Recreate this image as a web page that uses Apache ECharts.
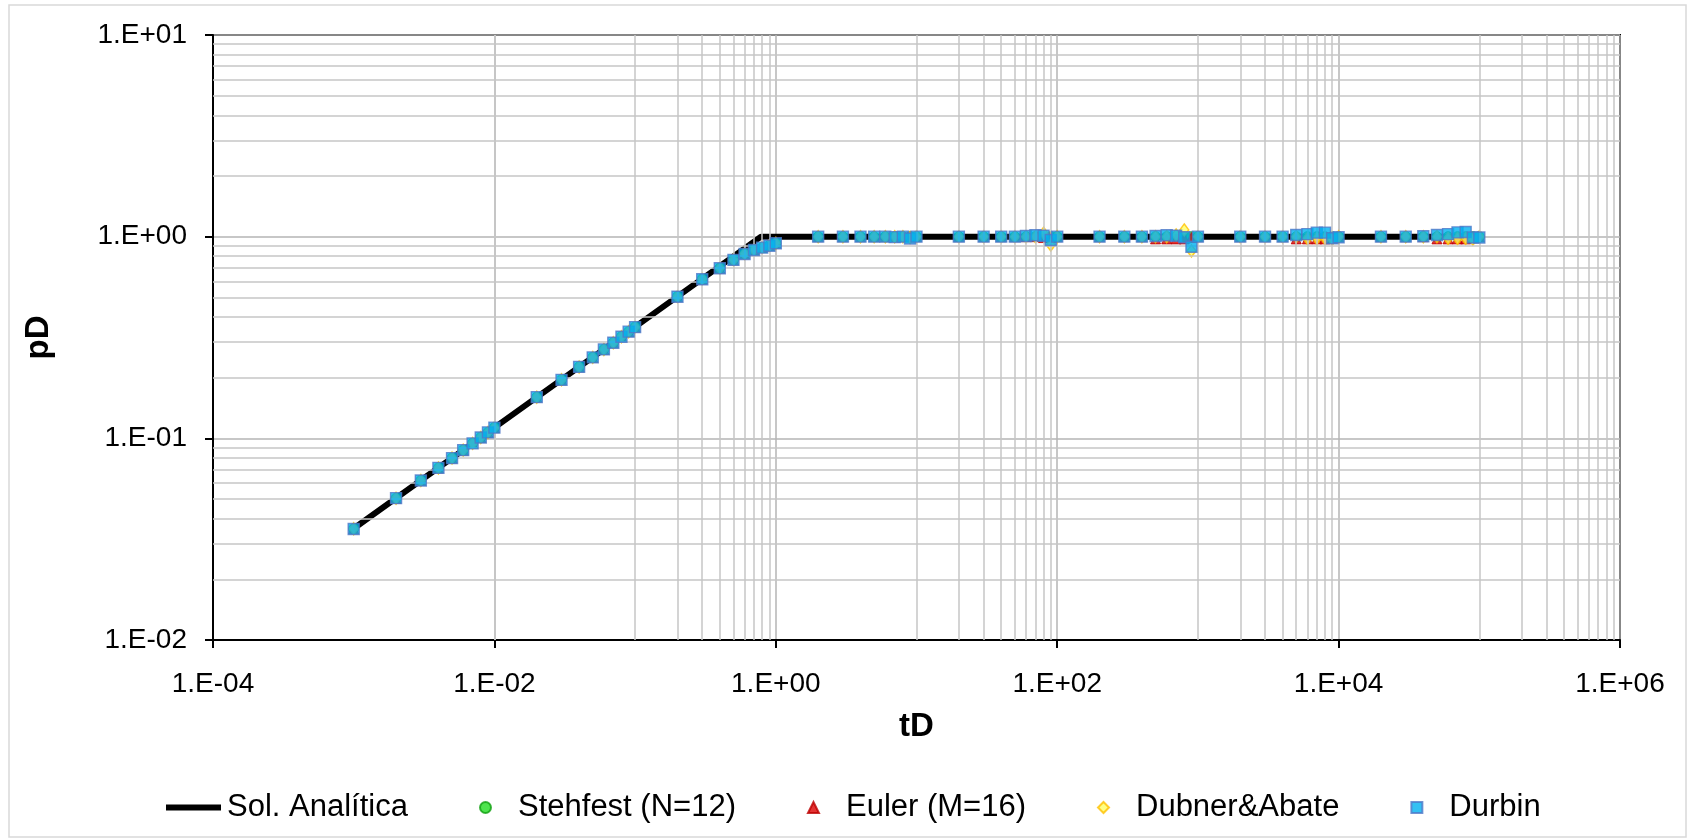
<!DOCTYPE html>
<html>
<head>
<meta charset="utf-8">
<script src="https://cdn.jsdelivr.net/npm/echarts@6/dist/echarts.min.js"></script>
<style>html,body{margin:0;padding:0;background:#fff}#c{width:1694px;height:840px}</style>
</head>
<body>
<div id="c"></div>
<script>
// ---- data ----
const tD = [0.001,0.002,0.003,0.004,0.005,0.006,0.007,0.008,0.009,
  0.01,0.02,0.03,0.04,0.05,0.06,0.07,0.08,0.09,
  0.1,0.2,0.3,0.4,0.5,0.6,0.7,0.8,0.9,
  1,2,3,4,5,6,7,8,9,
  10,20,30,40,50,60,70,80,90,
  100,200,300,400,500,600,700,800,900,
  1000,2000,3000,4000,5000,6000,7000,8000,9000,
  10000,20000,30000,40000,50000,60000,70000,80000,90000,
  100000];
const durbin = [0.0355,0.0505,0.0618,0.0714,0.0798,0.0874,0.0944,0.101,0.107,
  0.113,0.160,0.195,0.226,0.252,0.276,0.298,0.319,0.338,
  0.356,0.504,0.615,0.697,0.767,0.821,0.859,0.882,0.902,
  0.927,1.0,1.0,1.0,1.0,1.0,0.995,1.0,0.98,
  1.0,1.0,1.0,1.0,1.0,1.008,1.016,1.01,0.963,
  1.0,1.0,1.0,1.0,1.008,1.016,1.011,0.993,0.892,
  1.0,1.0,1.0,1.0,1.02,1.03,1.047,1.047,0.982,
  0.993,1.0,1.0,1.005,1.02,1.03,1.05,1.055,0.99,
  0.99];
const stehfest = [0.0356,0.0504,0.0618,0.0713,0.0798,0.0874,0.0944,0.101,0.107,
  0.113,0.160,0.195,0.226,0.252,0.276,0.298,0.319,0.338,
  0.356,0.504,0.616,0.698,0.768,0.822,0.860,0.884,0.904,
  0.928,1.0,1.0,1.0,1.0,1.0,1.0,1.0,1.0,
  1.0,1.0,1.0,1.0,1.0,1.0,1.0,1.0,1.0,
  1.0,1.0,1.0,1.0,1.0,1.0,1.0,1.0,1.0,
  1.0,1.0,1.0,1.0,1.0,1.0,1.0,1.0,1.0,
  1.0,1.0,1.0,1.0,1.0,1.0,1.0,1.0,1.0,
  1.0];
const euler = [0.0356,0.0504,0.0618,0.0713,0.0798,0.0874,0.0944,0.101,0.107,
  0.113,0.160,0.195,0.226,0.252,0.276,0.298,0.319,0.338,
  0.356,0.504,0.616,0.698,0.768,0.822,0.860,0.884,0.904,
  0.928,1.0,1.0,1.0,1.0,1.0,1.0,1.0,1.0,
  1.0,1.0,1.0,1.0,1.0,1.0,1.0,0.99,0.99,
  1.0,1.0,1.0,1.0,0.975,0.975,0.975,0.975,0.99,
  1.0,1.0,1.0,1.0,0.975,0.975,0.975,0.975,0.99,
  1.0,1.0,1.0,1.0,0.975,0.975,0.975,0.975,0.99,
  1.0];
const dubner = [0.0356,0.0504,0.0618,0.0713,0.0798,0.0874,0.0944,0.101,0.107,
  0.113,0.160,0.195,0.226,0.252,0.276,0.298,0.319,0.338,
  0.356,0.504,0.616,0.698,0.768,0.822,0.860,0.884,0.904,
  0.928,1.0,1.0,1.0,1.0,1.0,1.0,1.0,0.99,
  1.0,1.0,1.0,1.0,1.0,1.0,1.0,1.04,0.91,
  1.0,1.0,1.0,1.0,1.0,1.0,1.02,1.08,0.85,
  1.0,1.0,1.0,1.0,1.0,0.98,0.98,0.98,0.97,
  1.0,1.0,1.0,1.0,1.0,0.98,0.98,0.98,0.97,
  1.0];
const analyticT = [0.001,0.01,0.1,0.785,100000];
const analyticP = [0.0357,0.113,0.357,1.0,1.0];
const xTickLabels = ['1.E-04','1.E-02','1.E+00','1.E+02','1.E+04','1.E+06'];
const yTickLabels = ['1.E-02','1.E-01','1.E+00','1.E+01'];
const seriesNames = ['Sol. Analítica','Stehfest (N=12)','Euler (M=16)','Dubner&Abate','Durbin'];

// minor grid positions (axis ticks)
const xMinor = [];
[-3,-1,1,3,5].forEach(function(e){ for (let k=1;k<=9;k++) xMinor.push(k*Math.pow(10,e)); });
const yMinor = [];
[-2,-1,0].forEach(function(e){ for (let k=2;k<=9;k++) yMinor.push(k*Math.pow(10,e)); });

function zip(a,b){ return a.map(function(v,i){ return [v,b[i]]; }); }
function expIdx(v, lo, step){ return Math.round((Math.round(Math.log10(v)) - lo)/step); }

const FONT = 'Liberation Sans, Arial, sans-serif';
const minorLine = {color:'#c6c6c6', width:1.5, type:'solid'};
const legendText = {fontFamily:FONT, fontSize:31, color:'#000'};

const chart = echarts.init(document.getElementById('c'), null, {renderer:'canvas'});
chart.setOption({
  animation:false,
  backgroundColor:'#ffffff',
  graphic:[{type:'rect', shape:{x:9,y:5,width:1677,height:832}, style:{fill:'none', stroke:'#d9d9d9', lineWidth:1.5}, silent:true, z:-10}],
  grid:{left:213, right:74, top:35, bottom:200, show:true, borderColor:'#000', borderWidth:2, backgroundColor:'transparent'},
  legend:[
    {left:166, top:792, padding:0, itemWidth:55, itemHeight:6,
      textStyle:Object.assign({padding:[0,0,0,1]}, legendText),
      data:[{name:seriesNames[0], icon:'rect'}]},
    {left:479, top:792, padding:0, itemWidth:11, itemHeight:11, itemGap:71,
      textStyle:Object.assign({padding:[0,0,0,22]}, legendText),
      data:[
        {name:seriesNames[1], icon:'circle'},
        {name:seriesNames[2], icon:'triangle'},
        {name:seriesNames[3], icon:'diamond'},
        {name:seriesNames[4], icon:'rect'}
      ]}
  ],
  xAxis:{
    type:'log', logBase:100, min:1e-4, max:1e6, splitNumber:5,
    name:'tD', nameLocation:'middle', nameGap:70,
    nameTextStyle:{fontFamily:FONT, fontSize:33, fontWeight:'bold', color:'#000'},
    axisLine:{lineStyle:{color:'#000', width:2}},
    axisTick:{show:true, length:8, lineStyle:{color:'#000', width:2}},
    axisLabel:{fontFamily:FONT, fontSize:28, color:'#000', margin:30,
      formatter:function(v){ return xTickLabels[expIdx(v,-4,2)]; }},
    splitLine:{show:true, lineStyle:{color:'#b4b4b4', width:1.5}},
    minorTick:{show:false}, minorSplitLine:{show:false}
  },
  yAxis:{
    type:'log', logBase:10, min:0.01, max:10, splitNumber:3,
    name:'pD', nameLocation:'middle', nameGap:158, nameRotate:90,
    nameTextStyle:{fontFamily:FONT, fontSize:33, fontWeight:'bold', color:'#000'},
    axisLine:{lineStyle:{color:'#000', width:2}},
    axisTick:{show:true, length:8, lineStyle:{color:'#000', width:2}},
    axisLabel:{fontFamily:FONT, fontSize:28, color:'#000', margin:26,
      formatter:function(v){ return yTickLabels[expIdx(v,-2,1)]; }},
    splitLine:{show:true, lineStyle:{color:'#b4b4b4', width:1.5}}
  },
  series:[
    {type:'line', name:'_grid', data:[], silent:true, z:1,
      markLine:{silent:true, symbol:['none','none'], label:{show:false}, lineStyle:minorLine, animation:false,
        data: xMinor.map(function(v){return {xAxis:v};}).concat(yMinor.map(function(v){return {yAxis:v};}))}},
    {type:'line', name:seriesNames[0], data:zip(analyticT,analyticP), symbol:'none', z:3,
      lineStyle:{color:'#000', width:6}, itemStyle:{color:'#000'}},
    {type:'scatter', name:seriesNames[1], data:zip(tD,stehfest), symbol:'circle', symbolSize:10, z:4,
      itemStyle:{color:'#22dd22', borderColor:'#11a011', borderWidth:1}},
    {type:'scatter', name:seriesNames[2], data:zip(tD,euler), symbol:'triangle', symbolSize:10, z:4,
      itemStyle:{color:'#dd0000', borderColor:'#bb0000', borderWidth:1}},
    {type:'scatter', name:seriesNames[3], data:zip(tD,dubner), symbol:'diamond', symbolSize:[9,12], z:4,
      itemStyle:{color:'#ffff66', borderColor:'#ffc000', borderWidth:1.5}},
    {type:'scatter', name:seriesNames[4], data:zip(tD,durbin), symbol:'rect', symbolSize:11, z:5,
      itemStyle:{color:'#00b0f0', borderColor:'#4f78c8', borderWidth:1.4}}
  ]
});
</script>
</body>
</html>
